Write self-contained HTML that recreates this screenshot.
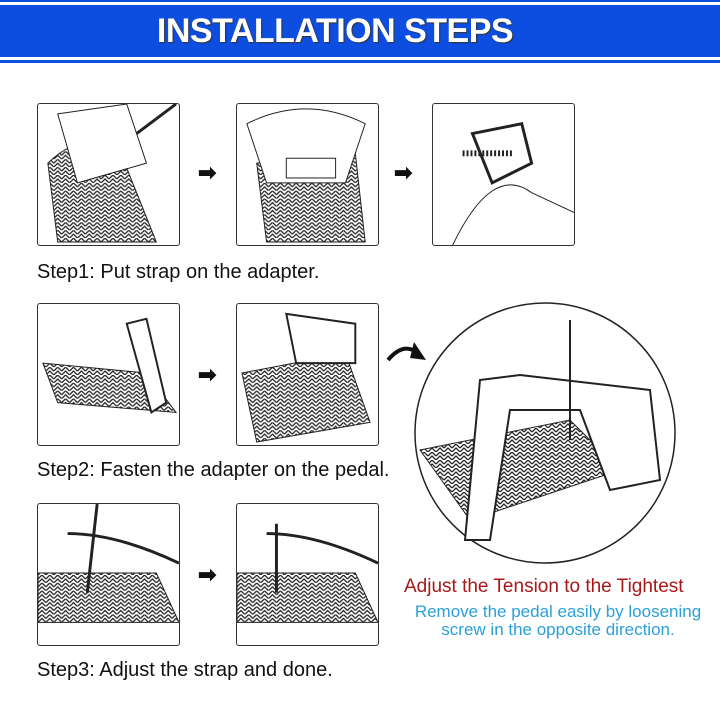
<!DOCTYPE html>
<html><head><style>
body{margin:0;width:720px;height:720px;background:#fff;position:relative;overflow:hidden;font-family:"Liberation Sans",sans-serif}
.a{position:absolute}
.box{position:absolute;width:143px;height:143px;border:1.5px solid #333;border-radius:3px;box-sizing:border-box;background:#fff;overflow:hidden}
.box svg{width:100%;height:100%}
.lbl{position:absolute;left:37px;font-size:20px;color:#111;line-height:22px}
.arr{position:absolute;font-size:22px;color:#111;font-weight:bold}
</style></head><body>
<div class="a" style="left:0;top:0;width:720px;height:2px;background:#0d4de0"></div>
<div class="a" style="left:0;top:5px;width:720px;height:52px;background:#0d4de0"></div>
<div class="a" style="left:0;top:60px;width:720px;height:3px;background:#0d4de0"></div>
<div class="a" style="left:0;top:11px;width:670px;text-align:center;color:#fff;font-weight:bold;font-size:34px;line-height:40px;text-shadow:1px 1px 1px #333;letter-spacing:-0.5px">INSTALLATION STEPS</div>

<svg width="0" height="0" style="position:absolute"><defs>
<pattern id="p" width="8" height="8" patternUnits="userSpaceOnUse"><rect width="8" height="8" fill="#fff"/><path d="M0 4 L4 0 L8 4 M0 8 L4 4 L8 8" stroke="#222" stroke-width="1.3" fill="none"/></pattern>
</defs></svg>

<div class="box" style="left:37px;top:103px"><svg viewBox="0 0 143 143"><path d="M10 60 Q40 30 80 40 L120 140 L20 140 Z" fill="url(#p)" stroke="#222"/><path d="M20 10 L90 0 L110 60 L40 80 Z" fill="#fff" stroke="#222"/><path d="M100 30 L140 0" stroke="#222" stroke-width="3"/></svg></div>
<div class="box" style="left:236px;top:103px"><svg viewBox="0 0 143 143"><path d="M20 60 L120 50 L130 140 L30 140 Z" fill="url(#p)" stroke="#222"/><path d="M10 20 Q70 -10 130 20 L110 80 L30 80 Z" fill="#fff" stroke="#222"/><rect x="50" y="55" width="50" height="20" fill="#fff" stroke="#222"/></svg></div>
<div class="box" style="left:432px;top:103px"><svg viewBox="0 0 143 143"><path d="M40 30 L90 20 L100 60 L60 80 Z" fill="none" stroke="#222" stroke-width="3"/><path d="M30 50 L80 50" stroke="#222" stroke-width="6" stroke-dasharray="2 2"/><path d="M20 143 Q60 60 100 90 L143 110" fill="none" stroke="#222"/></svg></div>
<div class="arr" style="left:198px;top:160px">➡</div>
<div class="arr" style="left:394px;top:160px">➡</div>
<div class="lbl" style="top:261px">Step1: Put strap on the adapter.</div>

<div class="box" style="left:37px;top:303px"><svg viewBox="0 0 143 143"><path d="M5 60 L110 70 L140 110 L20 100 Z" fill="url(#p)" stroke="#222"/><path d="M90 20 L110 15 L130 100 L115 110 Z" fill="#fff" stroke="#222" stroke-width="2"/></svg></div>
<div class="box" style="left:236px;top:303px"><svg viewBox="0 0 143 143"><path d="M5 70 L110 50 L135 120 L20 140 Z" fill="url(#p)" stroke="#222"/><path d="M50 10 L120 20 L120 60 L60 60 Z" fill="#fff" stroke="#222" stroke-width="2"/></svg></div>
<div class="arr" style="left:198px;top:362px">➡</div>
<div class="lbl" style="top:459px">Step2: Fasten the adapter on the pedal.</div>

<div class="box" style="left:37px;top:503px"><svg viewBox="0 0 143 143"><path d="M0 70 L120 70 L143 120 L0 120 Z" fill="url(#p)" stroke="#222"/><path d="M30 30 Q80 30 143 60" fill="none" stroke="#222" stroke-width="3"/><path d="M60 0 L50 90" stroke="#222" stroke-width="3"/></svg></div>
<div class="box" style="left:236px;top:503px"><svg viewBox="0 0 143 143"><path d="M0 70 L120 70 L143 120 L0 120 Z" fill="url(#p)" stroke="#222"/><path d="M30 30 Q80 30 143 60" fill="none" stroke="#222" stroke-width="3"/><path d="M40 20 L40 90" stroke="#222" stroke-width="3"/></svg></div>
<div class="arr" style="left:198px;top:562px">➡</div>
<div class="lbl" style="top:659px">Step3: Adjust the strap and done.</div>

<svg class="a" style="left:380px;top:300px" width="320" height="270" viewBox="0 0 320 270">
<path d="M8 60 Q25 40 40 55" fill="none" stroke="#111" stroke-width="4"/><path d="M34 42 L46 60 L30 58 Z" fill="#111"/>
<circle cx="165" cy="133" r="130" fill="#fff" stroke="#222" stroke-width="1.5"/>
<path d="M40 150 L190 120 L240 170 L90 220 Z" fill="url(#p)" stroke="#222"/>
<path d="M100 80 L140 75 L270 90 L280 180 L230 190 L200 110 L130 110 L110 240 L85 240 Z" fill="#fff" stroke="#222" stroke-width="2"/>
<path d="M190 20 L190 140" stroke="#222" stroke-width="2"/>
</svg>
<div class="a" style="left:404px;top:576px;width:316px;font-size:19px;color:#a81818;white-space:nowrap">Adjust the Tension to the Tightest</div>
<div class="a" style="left:400px;top:603px;width:316px;text-align:center;font-size:17px;color:#2aa0d8;line-height:18px;white-space:nowrap">Remove the pedal easily by loosening<br>screw in the opposite direction.</div>
</body></html>
